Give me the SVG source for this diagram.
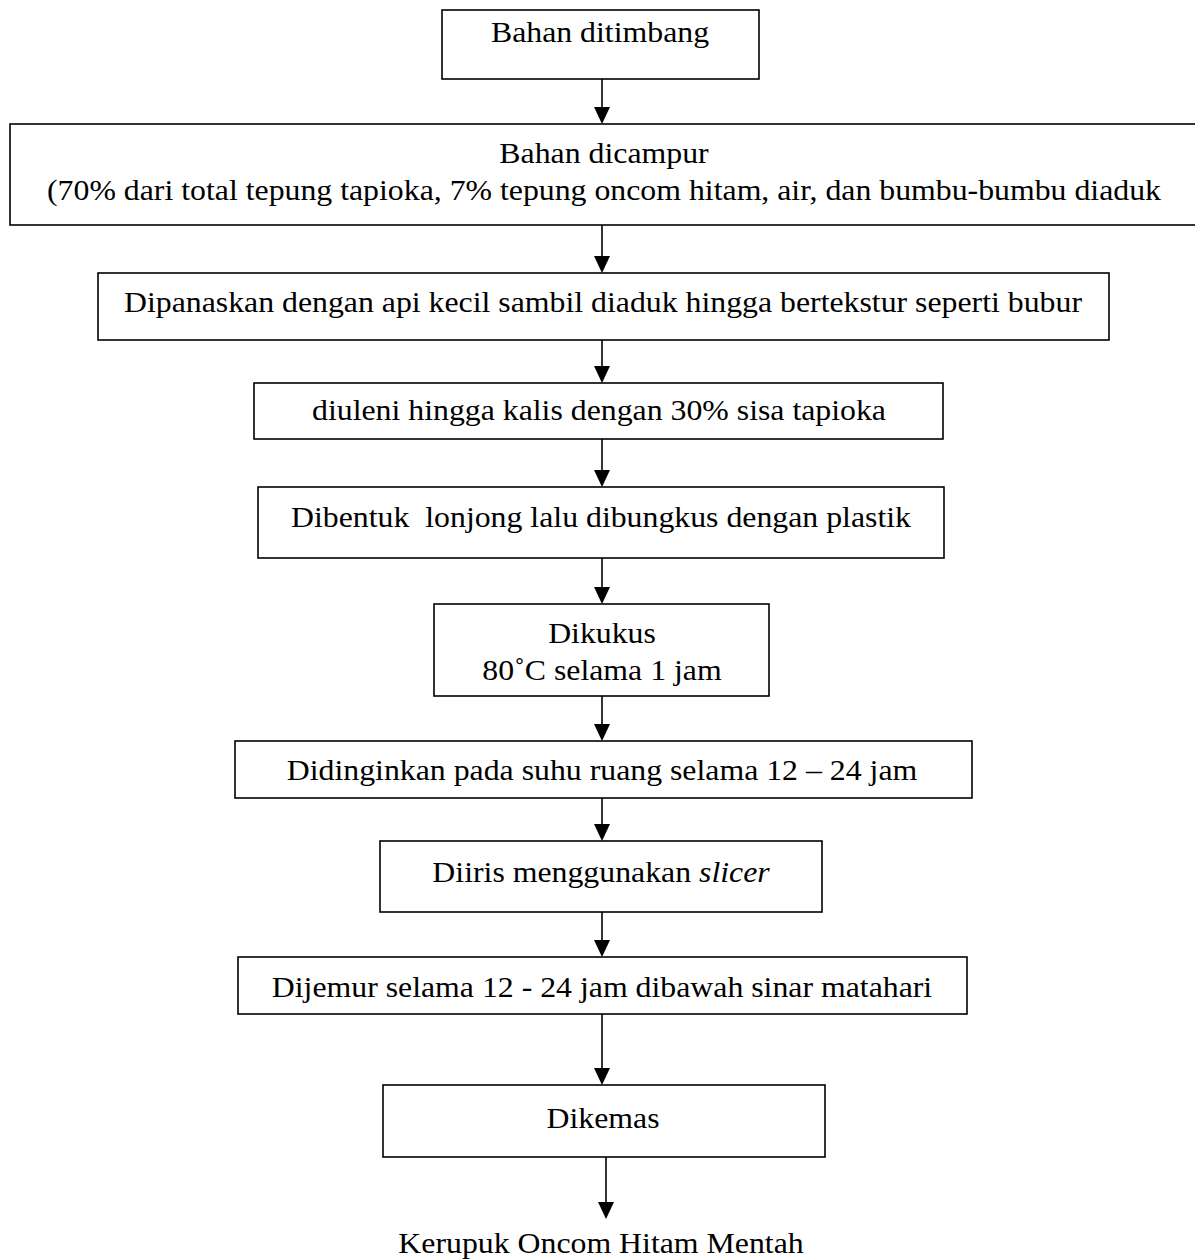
<svg xmlns="http://www.w3.org/2000/svg" width="1195" height="1259" viewBox="0 0 1195 1259">
<defs>
<marker id="ah" markerWidth="16" markerHeight="17" refX="8" refY="17" orient="auto-start-reverse" markerUnits="userSpaceOnUse" viewBox="0 0 16 17">
<path d="M0,0 L16,0 L8,17 Z" fill="#000" transform="rotate(0)"/>
</marker>
<style>
.box{fill:#fff;stroke:#000;stroke-width:1.6}
.t{font-family:"Liberation Serif","Times New Roman",serif;font-size:29px;fill:#000;text-anchor:middle}
.c{stroke:#000;stroke-width:1.6;fill:none}
.h{fill:#000}
</style>
</defs>
<rect width="1195" height="1259" fill="#fff"/>
<g id="connectors">
<line class="c" x1="602" y1="79" x2="602" y2="108"/><path class="h" d="M594,107 L610,107 L602,124 Z"/>
<line class="c" x1="602" y1="225" x2="602" y2="257"/><path class="h" d="M594,256 L610,256 L602,273 Z"/>
<line class="c" x1="602" y1="340" x2="602" y2="367"/><path class="h" d="M594,366 L610,366 L602,383 Z"/>
<line class="c" x1="602" y1="439" x2="602" y2="471"/><path class="h" d="M594,470 L610,470 L602,487 Z"/>
<line class="c" x1="602" y1="558" x2="602" y2="588"/><path class="h" d="M594,587 L610,587 L602,604 Z"/>
<line class="c" x1="602" y1="696" x2="602" y2="725"/><path class="h" d="M594,724 L610,724 L602,741 Z"/>
<line class="c" x1="602" y1="798" x2="602" y2="825"/><path class="h" d="M594,824 L610,824 L602,841 Z"/>
<line class="c" x1="602" y1="912" x2="602" y2="941"/><path class="h" d="M594,940 L610,940 L602,957 Z"/>
<line class="c" x1="602" y1="1014" x2="602" y2="1069"/><path class="h" d="M594,1068 L610,1068 L602,1085 Z"/>
<line class="c" x1="606" y1="1157" x2="606" y2="1203"/><path class="h" d="M598,1202 L614,1202 L606,1219 Z"/>
</g>
<g id="n1"><rect class="box" x="442" y="10" width="317" height="69"/><text class="t" transform="translate(600,42) scale(1.097,1)">Bahan ditimbang</text></g>
<g id="n2"><rect class="box" x="10" y="124" width="1200" height="101"/><text class="t" transform="translate(604,163) scale(1.097,1)">Bahan dicampur</text><text class="t" transform="translate(604,200) scale(1.097,1)">(70% dari total tepung tapioka, 7% tepung oncom hitam, air, dan bumbu-bumbu diaduk</text></g>
<g id="n3"><rect class="box" x="98" y="273" width="1011" height="67"/><text class="t" transform="translate(603,312) scale(1.097,1)">Dipanaskan dengan api kecil sambil diaduk hingga bertekstur seperti bubur</text></g>
<g id="n4"><rect class="box" x="254" y="383" width="689" height="56"/><text class="t" transform="translate(599,420) scale(1.097,1)">diuleni hingga kalis dengan 30% sisa tapioka</text></g>
<g id="n5"><rect class="box" x="258" y="487" width="686" height="71"/><text class="t" transform="translate(601,527) scale(1.097,1)" xml:space="preserve">Dibentuk  lonjong lalu dibungkus dengan plastik</text></g>
<g id="n6"><rect class="box" x="434" y="604" width="335" height="92"/><text class="t" transform="translate(602,643) scale(1.097,1)">Dikukus</text><text class="t" transform="translate(602,680) scale(1.097,1)">80˚C selama 1 jam</text></g>
<g id="n7"><rect class="box" x="235" y="741" width="737" height="57"/><text class="t" transform="translate(602,780) scale(1.097,1)">Didinginkan pada suhu ruang selama 12 – 24 jam</text></g>
<g id="n8"><rect class="box" x="380" y="841" width="442" height="71"/><text class="t" transform="translate(601,882) scale(1.097,1)">Diiris menggunakan <tspan font-style="italic">slicer</tspan></text></g>
<g id="n9"><rect class="box" x="238" y="957" width="729" height="57"/><text class="t" transform="translate(602,997) scale(1.097,1)">Dijemur selama 12 - 24 jam dibawah sinar matahari</text></g>
<g id="n10"><rect class="box" x="383" y="1085" width="442" height="72"/><text class="t" transform="translate(603,1128) scale(1.097,1)">Dikemas</text></g>
<g id="n11"><text class="t" transform="translate(601,1253) scale(1.097,1)">Kerupuk Oncom Hitam Mentah</text></g>
</svg>
